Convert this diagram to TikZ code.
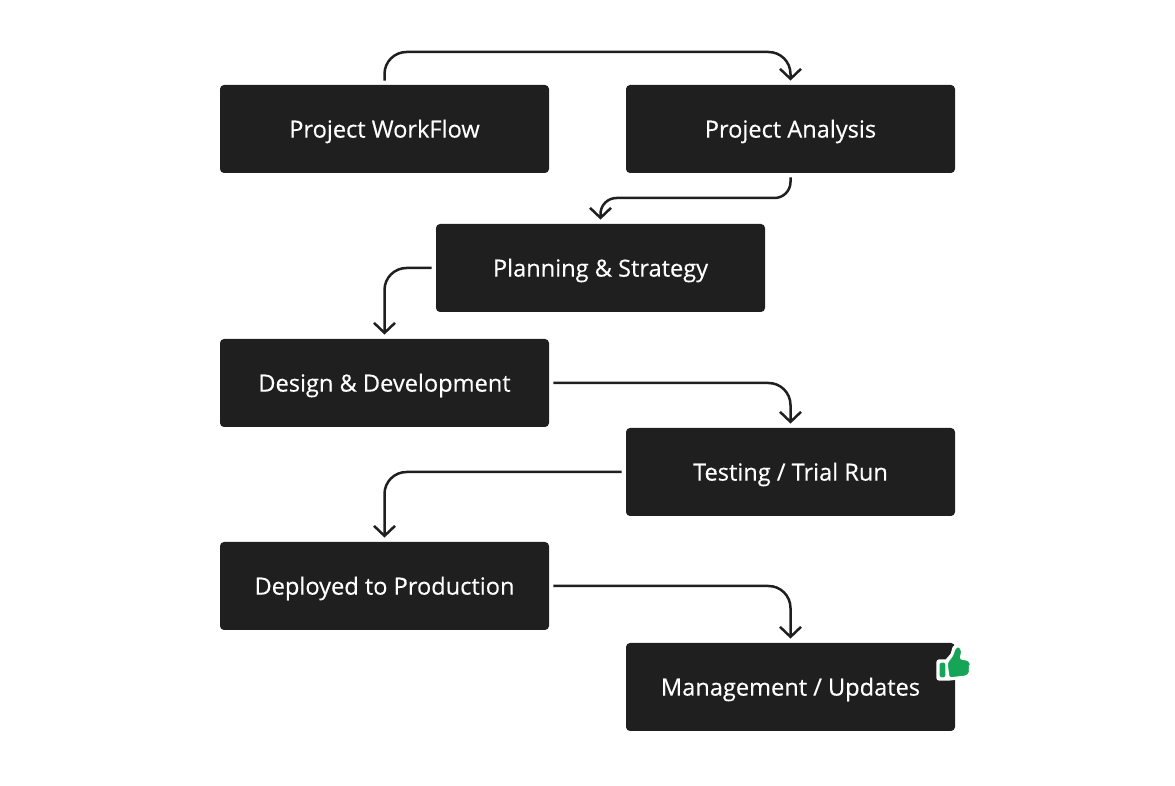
\documentclass[tikz,border=0pt]{standalone}
\usepackage{fontspec}
\setmainfont{Open Sans}
\newfontfamily\stagefont{Open Sans}[FakeBold=0.35]
\usetikzlibrary{positioning,arrows.meta}
\definecolor{boxfill}{HTML}{1F1F1F}
\definecolor{linecol}{HTML}{1F1F1F}
\definecolor{thumbgreen}{HTML}{16A457}

\tikzset{
  stage/.style={rectangle, rounded corners=2pt, fill=boxfill, text=white,
    minimum width=164.5pt, minimum height=44pt, inner sep=0pt,
    text height=8.6pt, text depth=0pt,
    font=\stagefont\fontsize{11.8}{14}\selectfont},
  flow/.style={draw=linecol, line width=1.25pt, rounded corners=11pt,
    -{Straight Barb[length=5pt,width=10.5pt,line width=1.25pt]}},
  thumb/.style={fill=thumbgreen, draw=white, line width=0.6pt, rounded corners=1.2pt}
}

\begin{document}
\begin{tikzpicture}[x=0.5pt,y=-0.5pt]
        \useasboundingbox (0,0) rectangle (1175,786);

        \node[stage] (workflow) at (384.5,129) {Project WorkFlow};
        \node[stage] (analysis) at (790.5,129) {Project Analysis};
        \node[stage] (planning) at (600.5,268) {Planning \& Strategy};
        \node[stage] (design) at (384.5,383) {Design \& Development};
        \node[stage] (testing) at (790.5,472) {Testing / Trial Run};
        \node[stage] (deploy) at (384.5,586) {Deployed to Production};
        \node[stage] (manage) at (790.5,687) {Management / Updates};

        % connectors between the stages
        \draw[flow] ([yshift=2pt]workflow.north) |- (587,52) -| ([yshift=2pt]analysis.north);
        \draw[flow, rounded corners=8pt] ([yshift=-2pt]analysis.south) |- (700,198) -| ([yshift=2pt]planning.north);
        \draw[flow] ([xshift=-2pt]planning.west) -| ([yshift=2pt]design.north);
        \draw[flow] ([xshift=2pt]design.east) -| ([yshift=2pt]testing.north);
        \draw[flow] ([xshift=-2pt]testing.west) -| ([yshift=2pt]deploy.north);
        \draw[flow] ([xshift=2pt]deploy.east) -| ([yshift=2pt]manage.north);

        % thumbs up on the last stage
        \draw[white, line width=2.6pt, fill=white, line join=round]
            (939,662) -- (947,662) -- (953,655) -- (955,648) -- (959,646) -- (962,651)
            -- (960,659) -- (968,660) -- (971,664) -- (969,668) -- (970,672)
            -- (967,676) -- (949,678) -- (939,678) -- cycle;
        \draw[thumb] (939,662) rectangle (946,678);
        \draw[thumb]
            (947,663) -- (953,655) -- (955,648) -- (959,646) -- (962,651)
            -- (960,659) -- (968,660) -- (971,664) -- (969,668) -- (970,672)
            -- (967,676) -- (949,678) -- cycle;
    \end{tikzpicture}
\end{document}
